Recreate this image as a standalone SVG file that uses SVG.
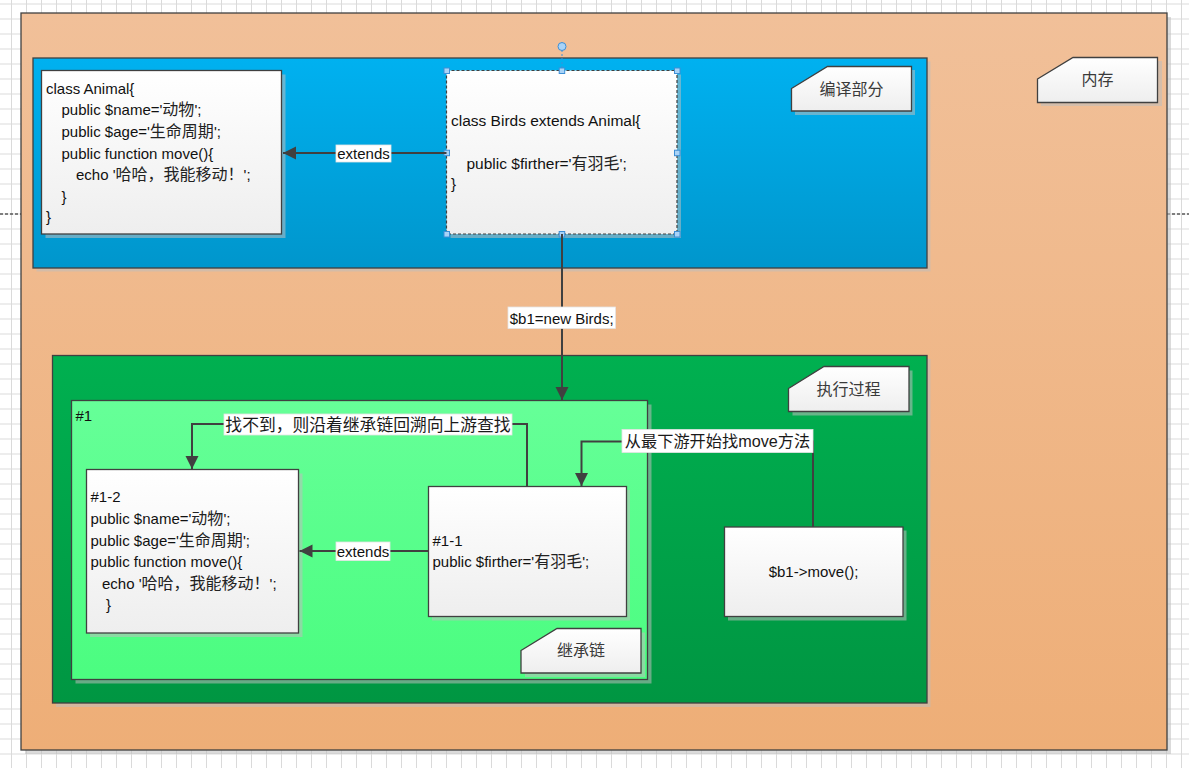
<svg xmlns="http://www.w3.org/2000/svg" width="1189" height="768" viewBox="0 0 1189 768">
<style>
text{font-family:"Liberation Sans","Noto Sans CJK SC",sans-serif;font-size:15px;fill:#111}
.c{font-size:16px;fill:#222}
.lbl{font-size:16px;fill:#3a3a3a;text-anchor:middle}
.ll{font-size:16.8px;fill:#1a1a1a;text-anchor:middle}
.mid{text-anchor:middle}
.box{fill:url(#gWhite);stroke:#404040;stroke-width:1.3}
.sh{fill:#bdbdbd;opacity:0.55}
.con{fill:none;stroke:#404040;stroke-width:2}
.lb{fill:#fff;stroke:#e4e4e4;stroke-width:0.8}
.hd{fill:#a9d3f7;stroke:#3d8fd6;stroke-width:1}
</style>
<defs>
<pattern id="grid" width="15" height="15" patternUnits="userSpaceOnUse" x="11" y="3.5">
<path d="M0 0.5H15M0.5 0V15" stroke="#dadada" stroke-width="1" fill="none"/>
</pattern>
<linearGradient id="gOrange" x1="0" y1="0" x2="0" y2="1"><stop offset="0" stop-color="#F1C099"/><stop offset="1" stop-color="#EEAE77"/></linearGradient>
<linearGradient id="gBlue" x1="0" y1="0" x2="0" y2="1"><stop offset="0" stop-color="#00B1F0"/><stop offset="1" stop-color="#0096CC"/></linearGradient>
<linearGradient id="gGreen" x1="0" y1="0" x2="0" y2="1"><stop offset="0" stop-color="#00B050"/><stop offset="1" stop-color="#009642"/></linearGradient>
<linearGradient id="gLight" x1="0" y1="0" x2="0" y2="1"><stop offset="0" stop-color="#66FF98"/><stop offset="1" stop-color="#4BFD80"/></linearGradient>
<linearGradient id="gWhite" x1="0" y1="0" x2="0" y2="1"><stop offset="0" stop-color="#FFFFFF"/><stop offset="1" stop-color="#EEEEEE"/></linearGradient>
<marker id="arr" markerUnits="userSpaceOnUse" markerWidth="14" markerHeight="14" refX="13" refY="6.5" orient="auto">
<path d="M0 0L13 6.5L0 13Z" fill="#404040"/>
</marker>
</defs>

<rect width="1189" height="768" fill="#fff"/>
<rect width="1189" height="768" fill="url(#grid)"/>
<path d="M0 214H21M1167 214H1189" stroke="#111" stroke-width="1" stroke-dasharray="3,2"/>

<g id="memory">
<rect class="sh" x="25" y="17" width="1146" height="737"/>
<rect x="21" y="13" width="1146" height="737" fill="url(#gOrange)" stroke="#404040" stroke-width="1.3"/>
</g>

<g id="compile">
<rect class="sh" x="36.5" y="61.5" width="894" height="210"/>
<rect x="33" y="58" width="894" height="210" fill="url(#gBlue)" stroke="#404040" stroke-width="1.3"/>
</g>

<g id="label-memory">
<path class="sh" d="M1041 83L1077 61H1162V106H1041Z"/>
<path class="box" d="M1037.5 79L1073 57.5H1157.5V102.5H1037.5Z"/>
<text class="lbl" x="1097.5" y="85">内存</text>
</g>

<g id="label-compile">
<path class="sh" d="M795 92L831 70H915V115H795Z"/>
<path class="box" d="M791.5 88.5L827.5 66.5H911.5V111H791.5Z"/>
<text class="lbl" x="851.5" y="94.5">编译部分</text>
</g>

<g id="animal">
<rect class="sh" x="45.5" y="74.5" width="240" height="163.5"/>
<rect class="box" x="41.5" y="70.5" width="240" height="163.5"/>
<text x="46" y="93.5">class Animal{</text>
<text x="61.5" y="115">public $name='<tspan class="c">动物</tspan>';</text>
<text x="61.5" y="137">public $age='<tspan class="c">生命周期</tspan>';</text>
<text x="61.5" y="158.5">public function move(){</text>
<text x="76" y="180">echo '<tspan class="c">哈哈，我能移动！</tspan>';</text>
<text x="61.5" y="202">}</text>
<text x="46" y="222">}</text>
</g>

<g id="birds">
<rect class="sh" x="450.5" y="74.5" width="230.5" height="163.5"/>
<rect x="446.5" y="70.5" width="230.5" height="163.5" fill="url(#gWhite)" stroke="#404040" stroke-width="1.2" stroke-dasharray="3,2"/>
<text x="451" y="126" style="font-size:15.5px">class Birds extends Animal{</text>
<text x="466.5" y="168.5" style="font-size:15.5px">public $firther='<tspan class="c">有羽毛</tspan>';</text>
<text x="451" y="188.5">}</text>
<path d="M562 50V70" stroke="#3d8fd6" stroke-width="1" stroke-dasharray="2,2"/>
<circle class="hd" cx="562" cy="46.5" r="4"/>
<rect class="hd" x="444" y="68" width="5.5" height="5.5"/>
<rect class="hd" x="559.2" y="68" width="5.5" height="5.5"/>
<rect class="hd" x="674.5" y="68" width="5.5" height="5.5"/>
<rect class="hd" x="444" y="150.2" width="5.5" height="5.5"/>
<rect class="hd" x="674.5" y="150.2" width="5.5" height="5.5"/>
<rect class="hd" x="444" y="231.5" width="5.5" height="5.5"/>
<rect class="hd" x="559.2" y="231.5" width="5.5" height="5.5"/>
<rect class="hd" x="674.5" y="231.5" width="5.5" height="5.5"/>
</g>

<g id="execute">
<rect class="sh" x="56" y="359" width="874.5" height="348"/>
<rect x="52.5" y="355.5" width="874.5" height="347.5" fill="url(#gGreen)" stroke="#404040" stroke-width="1.3"/>
</g>

<g id="label-execute">
<path class="sh" d="M792.5 392L828 370.5H912.5V415.5H792.5Z"/>
<path class="box" d="M788.5 388.5L824 366.5H909V411.5H788.5Z"/>
<text class="lbl" x="848.5" y="394.5">执行过程</text>
</g>

<g id="chain">
<rect class="sh" x="75.5" y="404.5" width="576" height="279"/>
<rect x="71.5" y="400.5" width="576" height="279" fill="url(#gLight)" stroke="#404040" stroke-width="1.3"/>
<text x="75.5" y="420.5">#1</text>
</g>

<g id="node-1-2">
<rect class="sh" x="90" y="473.5" width="212.5" height="163.5"/>
<rect class="box" x="86.5" y="469.5" width="212" height="163.5"/>
<text x="90.5" y="502">#1-2</text>
<text x="90.5" y="523.5">public $name='<tspan class="c">动物</tspan>';</text>
<text x="90.5" y="546">public $age='<tspan class="c">生命周期</tspan>';</text>
<text x="90.5" y="567">public function move(){</text>
<text x="102" y="589">echo '<tspan class="c">哈哈，我能移动！</tspan>';</text>
<text x="106" y="610">}</text>
</g>

<g id="node-1-1">
<rect class="sh" x="432" y="490" width="198" height="130.5"/>
<rect class="box" x="428.5" y="486.5" width="198" height="130"/>
<text x="432.5" y="545.5">#1-1</text>
<text x="432.5" y="566.5">public $firther='<tspan class="c">有羽毛</tspan>';</text>
</g>

<g id="label-chain">
<path class="sh" d="M525 654.5L561 632.5H645V677H525Z"/>
<path class="box" d="M521 650.5L557 628.5H641V673H521Z"/>
<text class="lbl" x="581" y="656">继承链</text>
</g>

<g id="call">
<rect class="sh" x="728" y="530.5" width="178.5" height="90"/>
<rect class="box" x="724.5" y="527" width="178.5" height="89.5"/>
<text class="mid" x="813.5" y="576.5">$b1-&gt;move();</text>
</g>

<g id="connectors">
<path class="con" d="M446.5 153H283" marker-end="url(#arr)"/>
<rect class="lb" x="336" y="145" width="55" height="17"/>
<text class="mid" x="363.5" y="158.5">extends</text>

<path class="con" d="M562 234V400" marker-end="url(#arr)"/>
<rect class="lb" x="508" y="307" width="107.5" height="21.5"/>
<text class="mid" x="561.7" y="323.5">$b1=new Birds;</text>

<path class="con" d="M527 486V424H192V469" marker-end="url(#arr)"/>
<rect class="lb" x="224" y="414" width="288" height="21"/>
<text class="ll" x="368" y="430.5">找不到，则沿着继承链回溯向上游查找</text>

<path class="con" d="M813 527V441.5H581.5V486" marker-end="url(#arr)"/>
<rect class="lb" x="622" y="429.5" width="191" height="23"/>
<text class="ll" x="717.5" y="447" style="font-size:16.2px">从最下游开始找move方法</text>

<path class="con" d="M428.5 551H299.5" marker-end="url(#arr)"/>
<rect class="lb" x="336" y="542" width="54" height="18.5"/>
<text class="mid" x="363" y="556.5">extends</text>
</g>
</svg>
